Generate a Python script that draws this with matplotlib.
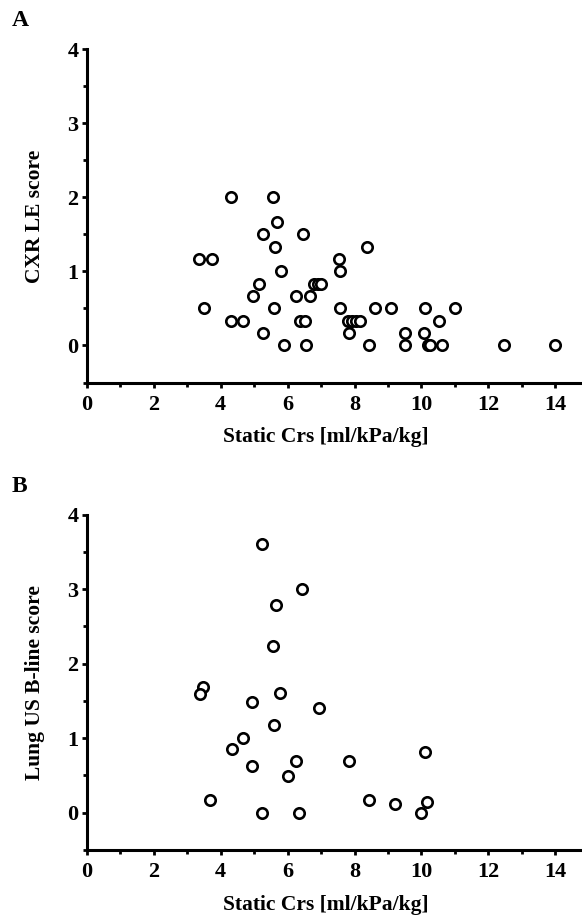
import matplotlib
matplotlib.use("Agg")
import matplotlib.pyplot as plt
from matplotlib.ticker import MultipleLocator

plt.rcParams['font.family'] = ['Liberation Serif', 'DejaVu Serif']
plt.rcParams['font.weight'] = 'bold'

# --- panel A: CXR LE score vs static compliance ---
crs_a = [4.31, 5.56,
         5.69,
         5.27, 6.46,
         5.61, 8.36,
         3.35, 3.73, 7.53,
         5.80, 7.58,
         5.14, 6.79, 6.90, 7.01,
         4.97, 6.24, 6.66,
         3.49, 5.58, 7.58, 8.61, 9.08, 10.09, 11.01,
         4.31, 4.67, 6.37, 6.52, 7.80, 7.92, 8.03, 8.15, 10.53,
         5.28, 7.84, 9.51, 10.06,
         5.89, 6.55, 8.42, 9.52, 10.18, 10.26, 10.61, 12.46, 13.98]
cxr_a = [2.0, 2.0,
         1.67,
         1.5, 1.5,
         1.33, 1.33,
         1.17, 1.17, 1.17,
         1.0, 1.0,
         0.83, 0.83, 0.83, 0.83,
         0.67, 0.67, 0.67,
         0.5, 0.5, 0.5, 0.5, 0.5, 0.5, 0.5,
         0.33, 0.33, 0.33, 0.33, 0.33, 0.33, 0.33, 0.33, 0.33,
         0.17, 0.17, 0.17, 0.17,
         0, 0, 0, 0, 0, 0, 0, 0, 0]

# --- panel B: lung US B-line score vs static compliance ---
crs_b = [5.25, 6.44, 5.66, 5.56,
         3.47, 3.38, 5.77, 4.95, 6.93, 5.60,
         4.67, 4.35, 10.11, 4.95, 6.24, 7.84, 6.00,
         3.68, 8.42, 9.21, 10.17,
         5.25, 6.35, 10.00]
bline_b = [3.6, 3.0, 2.78, 2.23,
           1.69, 1.59, 1.61, 1.49, 1.40, 1.17,
           1.0, 0.85, 0.82, 0.63, 0.70, 0.69, 0.49,
           0.17, 0.17, 0.12, 0.14,
           0, 0, 0]

XLABEL = "Static Crs [ml/kPa/kg]"
W, H = 582, 915
AX_LEFT = 86.7
AX_W = W - AX_LEFT


def style_axes(ax, ylabel):
    ax.set_xlim(0, AX_W / 33.48)
    ax.set_ylim(-0.5, 4)
    ax.xaxis.set_major_locator(MultipleLocator(2))
    ax.xaxis.set_minor_locator(MultipleLocator(1))
    ax.yaxis.set_minor_locator(MultipleLocator(0.5))
    ax.set_yticks([0, 1, 2, 3, 4])
    for s in ['top', 'right']:
        ax.spines[s].set_visible(False)
    for s in ['left', 'bottom']:
        ax.spines[s].set_linewidth(2.2)
    ax.tick_params(which='major', length=3.8, width=2, labelsize=16)
    ax.tick_params(which='minor', length=3, width=2)
    ax.tick_params(axis='x', which='major', pad=5)
    ax.tick_params(axis='y', which='major', pad=2)
    for lab in ax.get_xticklabels() + ax.get_yticklabels():
        lab.set_fontweight('bold')
    ax.set_xlabel(XLABEL, fontsize=15.5, fontweight='bold')
    ax.set_ylabel(ylabel, fontsize=15.5, fontweight='bold')
    ax.xaxis.set_label_coords((325.5 - AX_LEFT) / AX_W, -0.135)
    ax.yaxis.set_label_coords(-0.084, 0.5)


fig = plt.figure(figsize=(W / 100, H / 100), dpi=100)

ax1 = fig.add_axes([AX_LEFT / W, 1 - 382.5 / H, AX_W / W, (382.5 - 49.3) / H])
ax1.plot(crs_a, cxr_a, 'o', ms=7.5, mfc='white', mec='black', mew=1.9, clip_on=False)
style_axes(ax1, "CXR LE score")

ax2 = fig.add_axes([AX_LEFT / W, 1 - 850 / H, AX_W / W, (850 - 514.5) / H])
ax2.plot(crs_b, bline_b, 'o', ms=7.5, mfc='white', mec='black', mew=1.9, clip_on=False)
style_axes(ax2, "Lung US B-line score")

fig.text(12 / W, 1 - 10 / H, "A", fontsize=17, fontweight='bold', va='top', ha='left')
fig.text(12 / W, 1 - 476 / H, "B", fontsize=17, fontweight='bold', va='top', ha='left')

fig.savefig("out.png", dpi=100)
